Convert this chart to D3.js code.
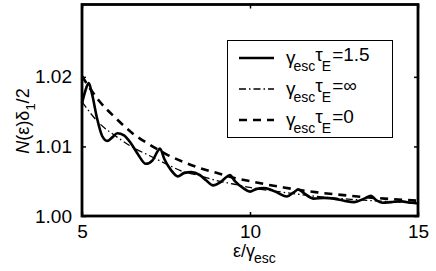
<!DOCTYPE html>
<html>
<head>
<meta charset="utf-8">
<script src="https://cdn.jsdelivr.net/npm/d3@7"></script>
<style>
  body { margin: 0; background: #fff; }
  text { font-family: "Liberation Sans", Arial, sans-serif; fill: #000; }
</style>
</head>
<body>
<svg id="chart" width="436" height="271"></svg>
<script>
// values
const xTicks = [5, 10, 15];
const yTicks = [1.00, 1.01, 1.02];

// gamma_esc tau_E = 1.5 (solid, oscillating)
const finiteX = [5.00, 5.10, 5.20, 5.30, 5.45, 5.60, 5.75, 5.90, 6.05, 6.25, 6.45, 6.65, 6.90, 7.10, 7.25, 7.32,
  7.45, 7.65, 7.85, 8.05, 8.25, 8.50, 8.70, 8.90, 9.10, 9.30, 9.40, 9.55, 9.80, 10.00, 10.20, 10.40, 10.60,
  10.80, 11.10, 11.30, 11.44, 11.60, 11.90, 12.20, 12.50, 12.80, 13.10, 13.40, 13.60, 13.75, 13.95, 14.20,
  14.50, 14.80, 15.00];
const finiteY = [1.0162, 1.0180, 1.0191, 1.0175, 1.0140, 1.0115, 1.0108, 1.0113, 1.0119, 1.0116, 1.0105,
  1.0090, 1.0075, 1.0080, 1.0093, 1.0097, 1.0082, 1.0066, 1.0057, 1.0062, 1.0063, 1.0059, 1.0051, 1.0044,
  1.0048, 1.0056, 1.0059, 1.0050, 1.0040, 1.0035, 1.0039, 1.0040, 1.0038, 1.0034, 1.0028, 1.0034, 1.0038,
  1.0033, 1.0025, 1.0026, 1.0025, 1.0022, 1.0020, 1.0025, 1.0029, 1.0023, 1.0019, 1.0020, 1.0021, 1.0019,
  1.0018];

// gamma_esc tau_E = infinity (dash-dot)
const infX = [5, 5.5, 6, 6.5, 7, 7.5, 8, 8.5, 9, 9.5, 10, 11, 12, 13, 14, 15];
const infY = [1.0164, 1.0134, 1.0115, 1.0099, 1.0087, 1.0075, 1.0064, 1.0058, 1.0051, 1.0046, 1.0041,
  1.0034, 1.0028, 1.0024, 1.0021, 1.0019];

// gamma_esc tau_E = 0 (dashed)
const zeroX = [5, 5.5, 6, 6.5, 7, 7.5, 8, 8.5, 9, 9.5, 10, 11, 12, 13, 14, 15];
const zeroY = [1.0201, 1.0166, 1.0141, 1.0119, 1.0103, 1.0089, 1.0078, 1.0069, 1.0062, 1.0055, 1.0050,
  1.0041, 1.0034, 1.0029, 1.0025, 1.0022];

const legendValues = ["1.5", "∞", "0"];

const svg = d3.select("#chart");
const plotLeft = 82, plotRight = 418, plotTop = 4.5, plotBottom = 216;

const x = d3.scaleLinear().domain([5, 15]).range([plotLeft, plotRight]);
const y = d3.scaleLinear().domain([1.00, 1.0304]).range([plotBottom, plotTop]);

const line = d3.line()
  .x(d => x(d[0]))
  .y(d => y(d[1]))
  .curve(d3.curveMonotoneX);

const styles = [
  { dash: null, width: 2.6 },
  { dash: "7,3,1.5,3", width: 1.3 },
  { dash: "8,6", width: 2.6 }
];

const plot = svg.append("g");

plot.append("path")
  .datum(d3.zip(zeroX, zeroY))
  .attr("fill", "none").attr("stroke", "#000")
  .attr("stroke-width", styles[2].width)
  .attr("stroke-dasharray", styles[2].dash)
  .attr("d", line);

plot.append("path")
  .datum(d3.zip(infX, infY))
  .attr("fill", "none").attr("stroke", "#000")
  .attr("stroke-width", styles[1].width)
  .attr("stroke-dasharray", styles[1].dash)
  .attr("d", line);

plot.append("path")
  .datum(d3.zip(finiteX, finiteY))
  .attr("fill", "none").attr("stroke", "#000")
  .attr("stroke-width", styles[0].width)
  .attr("stroke-linejoin", "round")
  .attr("d", line);

// axes, MATLAB style box with ticks pointing in
svg.append("g")
  .attr("transform", "translate(" + plotLeft + ",0)")
  .call(d3.axisLeft(y).tickValues(yTicks).tickSize(-4).tickPadding(10).tickFormat(d3.format(".2f")));
svg.append("g")
  .attr("transform", "translate(" + plotRight + ",0)")
  .call(d3.axisRight(y).tickValues(yTicks).tickSize(-4).tickFormat(""));
svg.append("g")
  .attr("transform", "translate(0," + plotBottom + ")")
  .call(d3.axisBottom(x).tickValues(xTicks).tickSize(-4).tickPadding(9).tickFormat(d3.format("d")));
svg.append("g")
  .attr("transform", "translate(0," + plotTop + ")")
  .call(d3.axisTop(x).tickValues(xTicks).tickSize(-4).tickFormat(""));

svg.selectAll(".domain").remove();
svg.selectAll(".tick line").attr("stroke", "#000").attr("stroke-width", 1.5);
svg.selectAll(".tick text").attr("font-size", 19).attr("font-family", "Liberation Sans, Arial, sans-serif").attr("fill", "#000");

svg.append("rect")
  .attr("x", plotLeft).attr("y", plotTop)
  .attr("width", plotRight - plotLeft).attr("height", plotBottom - plotTop)
  .attr("fill", "none").attr("stroke", "#000").attr("stroke-width", 2.8);

// x label
const xl = svg.append("text").attr("x", 233).attr("y", 257).attr("font-size", 18);
xl.append("tspan").text("ε/γ");
xl.append("tspan").attr("dx", -1).attr("dy", 6).attr("font-size", 14).text("esc");

// y label
const yl = svg.append("text")
  .attr("transform", "translate(29,121) rotate(-90)")
  .attr("text-anchor", "middle").attr("font-size", 18);
yl.append("tspan").attr("font-style", "italic").text("N");
yl.append("tspan").text("(ε)δ");
yl.append("tspan").attr("dy", 6).attr("font-size", 13).text("1");
yl.append("tspan").attr("dy", -6).text("/2");

// legend
const lg = svg.append("g");
lg.append("rect")
  .attr("x", 227.5).attr("y", 40.5).attr("width", 165).attr("height", 97)
  .attr("fill", "#fff").attr("stroke", "#000").attr("stroke-width", 1);

legendValues.forEach((v, i) => {
  const cy = 58 + i * 31;
  lg.append("line")
    .attr("x1", 239).attr("x2", 274).attr("y1", cy).attr("y2", cy)
    .attr("stroke", "#000").attr("stroke-width", styles[i].width)
    .attr("stroke-dasharray", styles[i].dash);
  const t = lg.append("text").attr("x", 286).attr("y", cy + 5.5).attr("font-size", 19);
  t.append("tspan").text("γ");
  t.append("tspan").attr("dx", -2).attr("dy", 7.5).attr("font-size", 14).text("esc");
  t.append("tspan").attr("dy", -10.5).text("τ");
  t.append("tspan").attr("dx", -1).attr("dy", 10.5).attr("font-size", 14).text("E");
  t.append("tspan").attr("dx", 1).attr("dy", -10.5).text("=" + v);
});
</script>
</body>
</html>
